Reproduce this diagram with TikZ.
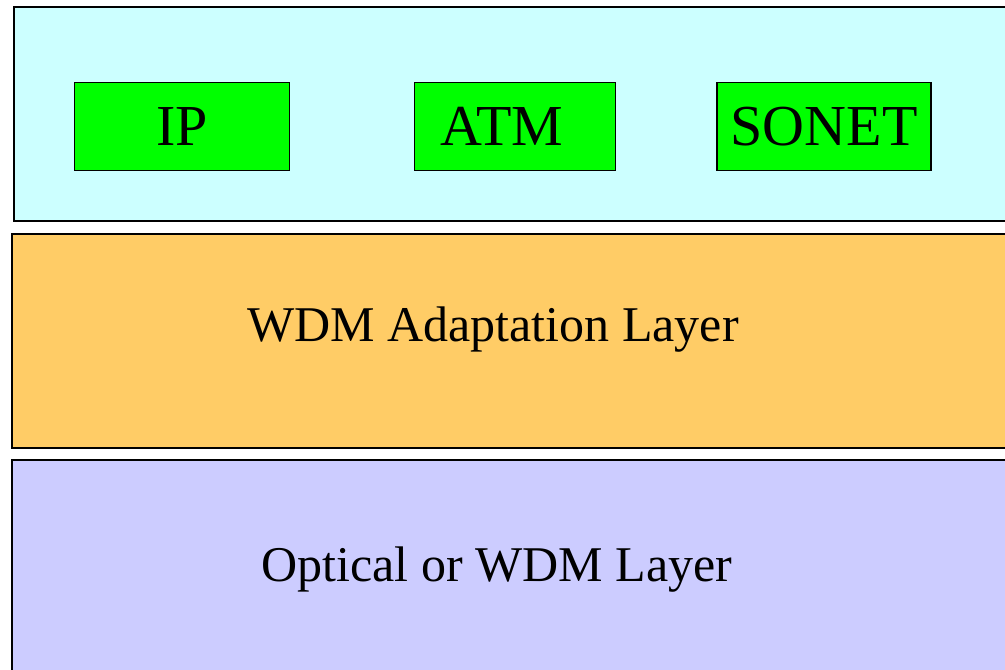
\documentclass[tikz,border=0pt]{standalone}
\usepackage{fontspec}
\setmainfont{Liberation Serif}
\definecolor{toplayer}{HTML}{CCFFFF}
\definecolor{adaptlayer}{HTML}{FFCC66}
\definecolor{wdmlayer}{HTML}{CCCCFF}
\definecolor{protogreen}{HTML}{00FF00}

\begin{document}
\begin{tikzpicture}[x=1pt,y=-1pt,
		layer/.style={draw=black, line width=1.6pt},
		proto/.style={draw=black, line width=1.6pt, fill=protogreen, inner sep=0pt,
			font=\fontsize{58}{64}\selectfont},
		layertext/.style={anchor=base, inner sep=0pt, font=\fontsize{50}{60}\selectfont}]
			\useasboundingbox (0,0) rectangle (1005,670);
			\clip (0,0) rectangle (1005,670);
			\fill[white] (0,0) rectangle (1005,670);
			% the three layers
			\draw[layer, fill=toplayer] (14,7) rectangle (1020,221);
			\draw[layer, fill=adaptlayer] (12,234) rectangle (1020,448);
			\draw[layer, fill=wdmlayer] (12,460) rectangle (1020,690);
			% client protocols
			\node[proto, minimum width=215pt, minimum height=88pt] (ip) at (182,126.5) {IP};
			\node[proto, minimum width=201pt, minimum height=88pt] (atm) at (515,126.5) {\hspace*{-26pt}ATM};
			\node[proto, minimum width=214pt, minimum height=88pt] (sonet) at (824,126.5) {SONET};
			% layer names
			\node[layertext] (adapt) at (493,341) {WDM Adaptation Layer};
			\node[layertext] (optical) at (497,581) {Optical or WDM Layer};
		\end{tikzpicture}
\end{document}
